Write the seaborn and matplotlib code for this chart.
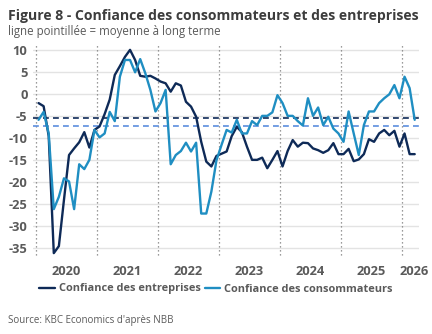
import numpy as np
import pandas as pd
import matplotlib
matplotlib.use("Agg")
import matplotlib.pyplot as plt
import seaborn as sns

# ---- data (monthly, Jan 2020 .. Mar 2026) ----
start_year = 2020
entreprises = [-2.0, -2.7, -9.5, -36.1, -34.5, -24.0, -13.8, -12.3, -10.9, -8.6, -12.1, -8.1,
               -7.3, -4.5, -1.2, 4.4, 6.4, 8.5, 10.1, 7.8, 4.2, 4.0, 4.2, 3.6,
               2.9, 2.5, 0.6, 2.5, 2.0, -1.7, -2.8, -5.1, -10.8, -15.3, -16.4, -14.0,
               -13.5, -13.0, -9.5, -7.4, -8.6, -11.9, -14.9, -14.9, -14.4, -16.8, -14.9, -12.9,
               -16.4, -12.9, -10.4, -11.9, -11.0, -11.1, -12.3, -12.7, -13.3, -12.7, -11.1, -13.6,
               -13.6, -12.4, -15.2, -14.8, -13.6, -10.2, -10.8, -8.9, -8.1, -9.3, -8.3, -11.9,
               -8.9, -13.6, -13.6]
consommateurs = [-5.8, -4.0, -8.9, -26.1, -23.3, -19.1, -19.8, -26.1, -15.9, -17.0, -14.9, -8.1,
                 -9.8, -8.9, -4.0, -6.1, 4.0, 7.8, 7.8, 5.0, 8.0, 4.8, 1.0, -3.9,
                 -2.0, 1.0, -15.9, -13.8, -12.9, -11.0, -13.0, -11.0, -27.1, -27.1, -22.1, -15.0,
                 -11.5, -8.1, -8.7, -5.8, -8.9, -8.9, -6.1, -7.0, -4.9, -4.9, -4.1, -0.2,
                 -2.0, -4.9, -4.9, -6.1, -7.1, -0.9, -4.9, -3.0, -7.0, -5.1, -7.8, -8.9,
                 -10.8, -3.9, -8.9, -13.8, -7.0, -3.9, -3.9, -2.0, -0.9, 0.0, 2.1, -0.9,
                 4.0, 1.4, -5.8]
moyenne_entreprises = -5.4
moyenne_consommateurs = -7.3
series_names = ["Confiance des entreprises", "Confiance des consommateurs"]
year_labels = ["2020", "2021", "2022", "2023", "2024", "2025", "2026"]
ytick_values = [10, 5, 0, -5, -10, -15, -20, -25, -30, -35]

title = "Figure 8 - Confiance des consommateurs et des entreprises"
subtitle = "ligne pointillée = moyenne à long terme"
source = "Source: KBC Economics d'après NBB"

# ---- build table ----
n = len(entreprises)
xpos = start_year + (np.arange(n) + 0.5) / 12.0
df = pd.concat([
    pd.DataFrame({"x": xpos, "v": entreprises, "serie": series_names[0]}),
    pd.DataFrame({"x": xpos, "v": consommateurs, "serie": series_names[1]}),
])

DARK = "#0e2a57"
BLUE = "#1f8ec2"
DASH_BLUE = "#5b8ede"
GRID = "#e3e3e3"
TXT = "#5a5a5a"
TITLE_C = "#3d3d3d"

sns.set_theme(style="white")
plt.rcParams["font.family"] = ["Open Sans", "DejaVu Sans"]

W, H = 432, 334
fig = plt.figure(figsize=(W / 100, H / 100), dpi=100)
ax = fig.add_axes([33 / W, (H - 257) / H, (419 - 33) / W, (257 - 44) / H])

sns.lineplot(data=df, x="x", y="v", hue="serie", hue_order=series_names,
             palette=[DARK, BLUE], linewidth=1.7, ax=ax, zorder=3)

ax.set_xlim(2020 - 3 / 61, 2020 + 383 / 61)
ax.set_ylim((94.3 - 257) / 4.4, (94.3 - 44) / 4.4)

# grid
for v in ytick_values:
    ax.axhline(v, color=GRID, lw=1.0, zorder=0)
for i in range(len(year_labels)):
    ax.axvline(start_year + i, ymin=2 / 213, ymax=1, color="#7a7a7a", lw=0.9,
               ls=(0, (1, 2.2)), zorder=1)

# averages
ax.axhline(moyenne_entreprises, color=DARK, lw=1.2, ls=(0, (3.5, 2.5)), zorder=2)
ax.axhline(moyenne_consommateurs, color=DASH_BLUE, lw=1.2, ls=(0, (3.5, 2.5)), zorder=2)

for s in ax.spines.values():
    s.set_visible(False)

ax.set_xlabel("")
ax.set_ylabel("")
ax.set_yticks(ytick_values)
ax.set_yticklabels([str(v) for v in ytick_values])
ax.tick_params(axis="y", length=0, pad=4, labelsize=9.3, labelcolor=TXT)
for lab in ax.get_yticklabels():
    lab.set_fontweight("bold")

# year boundary ticks (major) and centered labels (minor)
ax.set_xticks([start_year + i for i in range(len(year_labels))])
ax.set_xticklabels([""] * len(year_labels))
ax.tick_params(axis="x", which="major", length=3.5, width=0.9, color="#7a7a7a",
               direction="out", pad=0)
label_pos = [start_year + i + 0.5 for i in range(len(year_labels) - 1)] + [2026.2]
ax.set_xticks(label_pos, minor=True)
ax.set_xticklabels(year_labels, minor=True)
ax.tick_params(axis="x", which="minor", length=0, pad=6, labelsize=9.3, labelcolor=TXT)
for lab in ax.get_xticklabels(minor=True):
    lab.set_fontweight("bold")

# legend (font size fitted to the reference text width)
handles, labels = ax.get_legend_handles_labels()
probe = fig.text(0, 0, series_names[0], fontsize=10, fontweight="bold")
fig.canvas.draw()
leg_size = 10 * 143 / probe.get_window_extent().width
probe.remove()
ax.legend(handles, labels, loc="center", bbox_to_anchor=(216 / W, 1 - 289 / H),
          bbox_transform=fig.transFigure, ncol=2, frameon=False,
          handlelength=1.4, handletextpad=0.35, columnspacing=0.4,
          prop={"weight": "bold", "size": leg_size}, labelcolor=TXT)

# titles / source
t1 = fig.text(8 / W, 1 - 16 / H, title, ha="left", va="center", fontsize=10.5,
              fontweight="bold", color=TITLE_C)
t2 = fig.text(8 / W, 1 - 31 / H, subtitle, ha="left", va="center", fontsize=8.5,
              color=TXT)
t3 = fig.text(8 / W, 1 - 320 / H, source, ha="left", va="center", fontsize=7,
              color=TXT)

def fit(t, target):
    fig.canvas.draw()
    w = t.get_window_extent().width
    t.set_fontsize(t.get_fontsize() * target / w)

fit(t1, 412)
fit(t2, 212)
fit(t3, 166)

fig.savefig("out.png", dpi=100)
